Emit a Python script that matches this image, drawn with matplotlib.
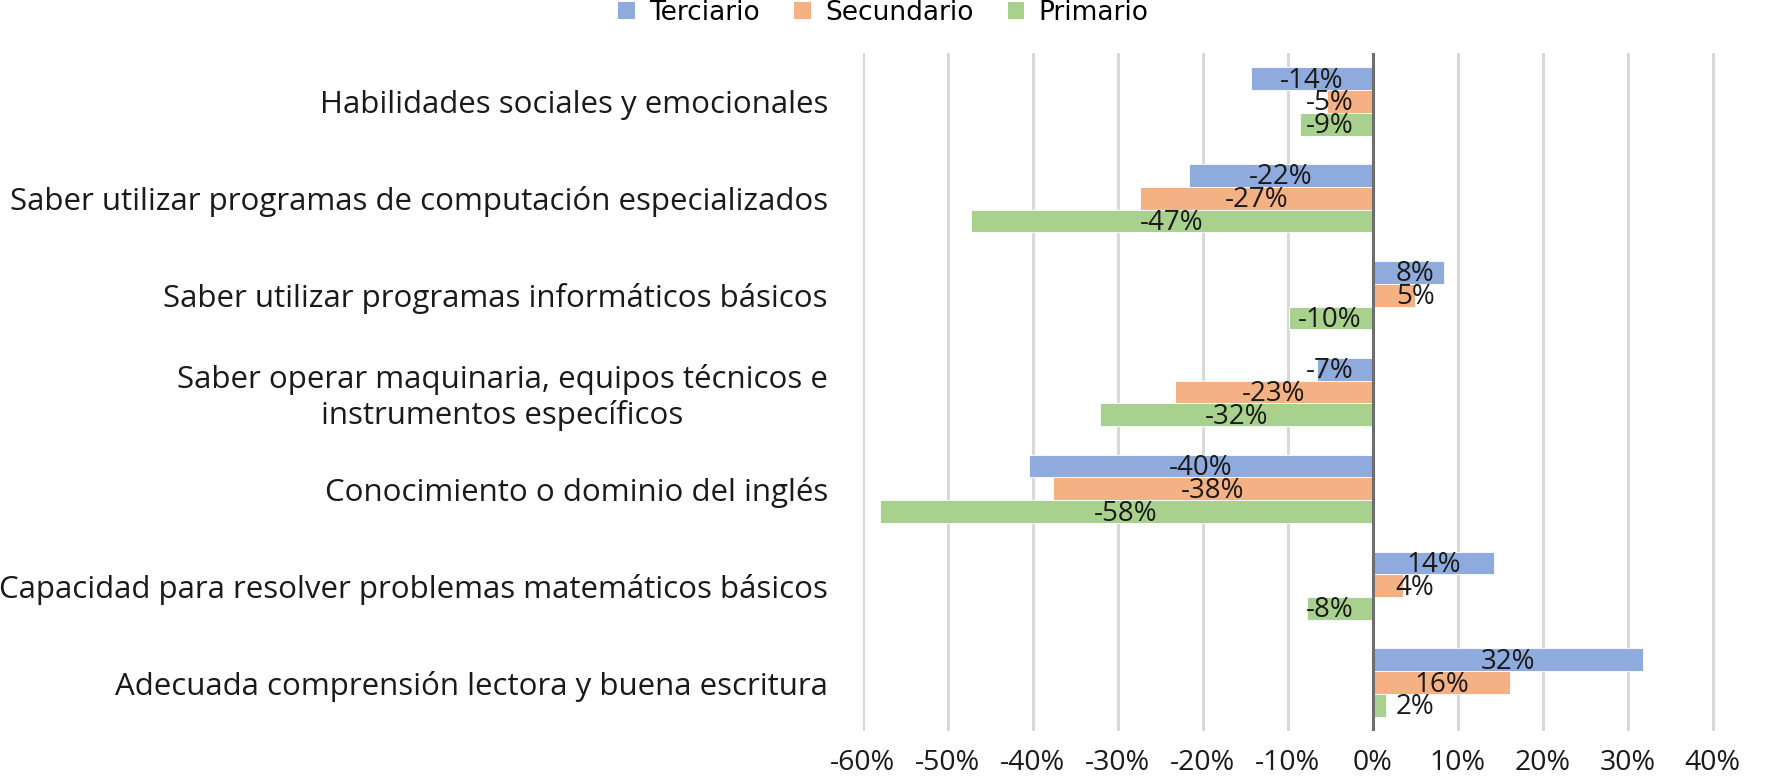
import matplotlib
matplotlib.use("Agg")
import matplotlib.pyplot as plt
from matplotlib.patches import Patch
from matplotlib.ticker import FixedLocator, FuncFormatter
import numpy as np

# Skills, listed bottom to top
categories = [
    "Adecuada comprensión lectora y buena escritura",
    "Capacidad para resolver problemas matemáticos básicos",
    "Conocimiento o dominio del inglés",
    "Saber operar maquinaria, equipos técnicos e\ninstrumentos específicos",
    "Saber utilizar programas informáticos básicos",
    "Saber utilizar programas de computación especializados",
    "Habilidades sociales y emocionales",
]

# Net balance (%) by sector, same order as categories
terciario = [31.8, 14.3, -40.4, -6.6, 8.4, -21.6, -14.3]
secundario = [16.2, 3.6, -37.6, -23.2, 5.0, -27.4, -5.4]
primario = [1.6, -7.7, -58.0, -32.1, -9.9, -47.3, -8.6]

ticks = [-60, -50, -40, -30, -20, -10, 0, 10, 20, 30, 40]

series = ["Terciario", "Secundario", "Primario"]
colors = {"Terciario": "#8FAADC", "Secundario": "#F4B183", "Primario": "#A9D18E"}
values = {"Terciario": terciario, "Secundario": secundario, "Primario": primario}

text_font = ["Open Sans", "DejaVu Sans"]

fig = plt.figure(figsize=(17.85, 7.76), dpi=100)
ax = fig.add_axes([0.4833, 0.058, 0.5238, 0.8737])

y = np.arange(len(categories))
h = 0.235
offsets = {"Terciario": h, "Secundario": 0.0, "Primario": -h}

for s in series:
    vals = np.array(values[s])
    ax.barh(y + offsets[s], vals, height=h, color=colors[s], zorder=3,
            edgecolor="white", linewidth=0.6)
    for yi, v in zip(y, vals):
        # centre the label on the bar, but keep it clear of the zero axis
        cx = np.sign(v) * max(abs(v) / 2, 5.0)
        ax.text(cx, yi + offsets[s] - 0.02, f"{v:.0f}%", ha="center", va="center",
                fontsize=20, family=text_font, color="#1a1a1a", zorder=5)

ax.set_xlim(-60, 50)
ax.set_ylim(-0.5, len(categories) - 0.5)
ax.xaxis.set_major_locator(FixedLocator(ticks))
ax.xaxis.set_major_formatter(FuncFormatter(lambda x, p: f"{x:.0f}%"))
ax.grid(axis="x", color="#D9D9D9", linewidth=2.2, zorder=0)
ax.axvline(0, color="#6E6E6E", linewidth=2.2, zorder=4)

ax.set_yticks(y)
ax.set_yticklabels(categories, fontsize=22.5, family=text_font, color="#1a1a1a",
                   multialignment="center")
ax.tick_params(axis="y", length=0, pad=25)
ax.tick_params(axis="x", length=0, pad=13, labelsize=20.5, labelcolor="#1a1a1a")
for lbl in ax.get_xticklabels():
    lbl.set_family(text_font)

for sp in ax.spines.values():
    sp.set_visible(False)

handles = [Patch(facecolor=colors[s], edgecolor="none", label=s) for s in series]
fig.legend(handles=handles, loc="center", bbox_to_anchor=(0.495, 0.983), ncol=3,
           frameon=False, prop={"family": "DejaVu Sans", "size": 19},
           handlelength=0.62, handleheight=0.62, handletextpad=0.55,
           columnspacing=1.3, borderpad=0)

fig.savefig("out.png", dpi=100)
